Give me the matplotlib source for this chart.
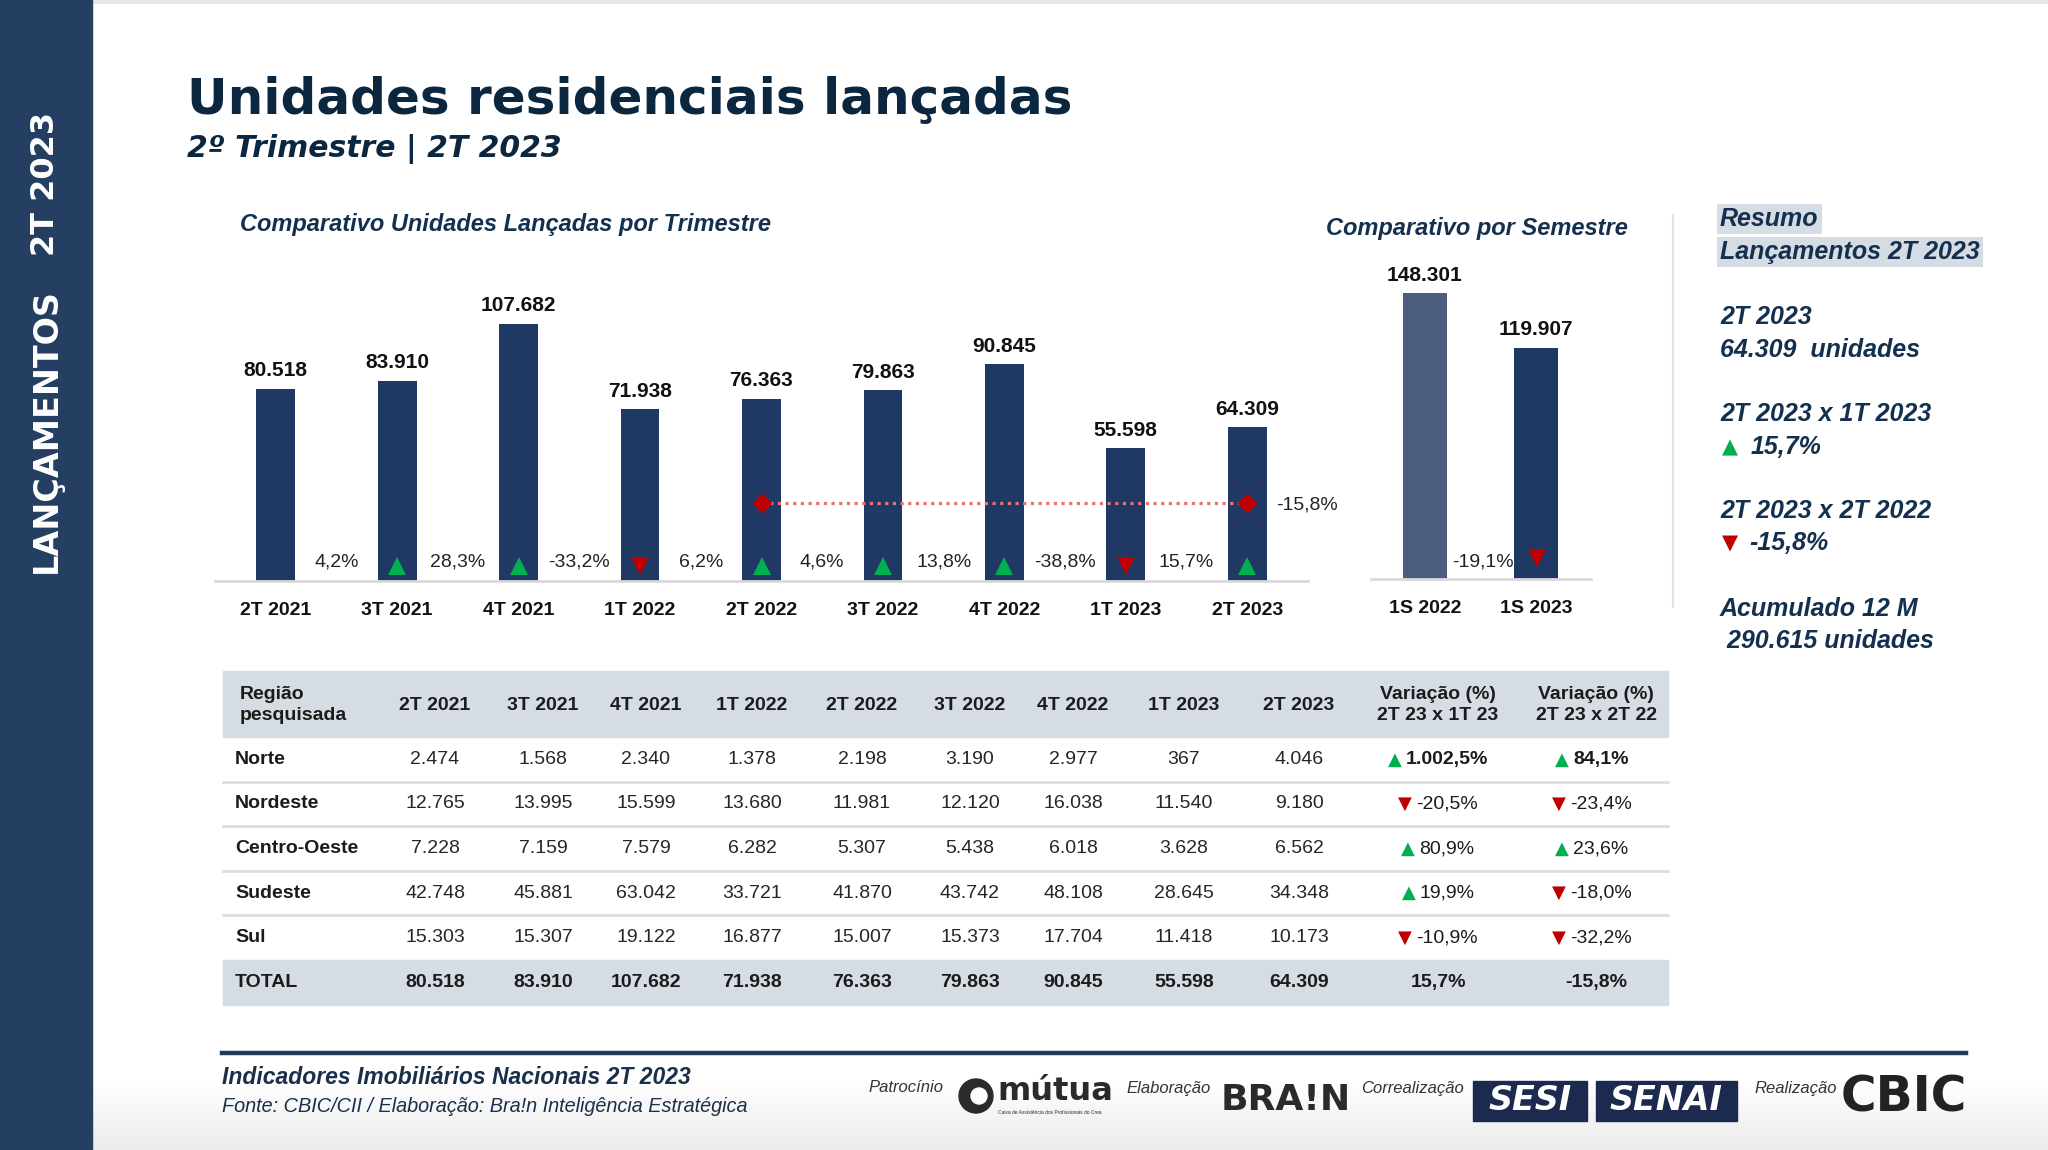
import matplotlib
matplotlib.use('Agg')
import matplotlib.pyplot as plt
import matplotlib.transforms as mtrans
from matplotlib import font_manager as fm
from matplotlib.colors import LinearSegmentedColormap
from matplotlib.patches import Rectangle, Circle
import numpy as np

# ─── dados ─────────
trimestres = ['2T 2021', '3T 2021', '4T 2021', '1T 2022', '2T 2022',
              '3T 2022', '4T 2022', '1T 2023', '2T 2023']
unidades = [80518, 83910, 107682, 71938, 76363, 79863, 90845, 55598, 64309]
var_trim = ['4,2%', '28,3%', '-33,2%', '6,2%', '4,6%', '13,8%', '-38,8%', '15,7%']
var_anual = '-15,8%'

semestres = ['1S 2022', '1S 2023']
unid_sem = [148301, 119907]
var_sem = '-19,1%'

regioes = ['Norte', 'Nordeste', 'Centro-Oeste', 'Sudeste', 'Sul']
norte = [2474, 1568, 2340, 1378, 2198, 3190, 2977, 367, 4046]
nordeste = [12765, 13995, 15599, 13680, 11981, 12120, 16038, 11540, 9180]
centro_oeste = [7228, 7159, 7579, 6282, 5307, 5438, 6018, 3628, 6562]
sudeste = [42748, 45881, 63042, 33721, 41870, 43742, 48108, 28645, 34348]
sul = [15303, 15307, 19122, 16877, 15007, 15373, 17704, 11418, 10173]
var_tri_reg = ['1.002,5%', '-20,5%', '80,9%', '19,9%', '-10,9%']
var_ano_reg = ['84,1%', '-23,4%', '23,6%', '-18,0%', '-32,2%']
var_total = ['15,7%', '-15,8%']

resumo_trim = '64.309  unidades'
resumo_12m = ' 290.615 unidades'

# ─── cores / fontes ─────────
NAVY = '#203864'
SLATE = '#4b5c7f'
TXT = '#14304f'
GREEN = '#00b050'
RED = '#c00000'
LINE = '#d9d9d9'
HEAD_BG = '#d6dce4'

_names = {f.name for f in fm.fontManager.ttflist}
NARROW = 'Liberation Sans Narrow' if 'Liberation Sans Narrow' in _names else 'Liberation Sans'
plt.rcParams['font.family'] = [NARROW, 'DejaVu Sans']

FS_VAL = 15      # rótulos de valor
FS_LAB = 14      # categorias / percentuais / tabela


def br(v):
    return f'{v:,}'.replace(',', '.')


def is_up(s):
    return not s.strip().startswith('-')


W, H = 2048, 1150
fig = plt.figure(figsize=(W / 100, H / 100), dpi=100)

# overlay em coordenadas de pixel (y para baixo)
ov = fig.add_axes([0, 0, 1, 1], zorder=0)
ov.axis('off')

# fundo: leve degradê cinza no rodapé
grad = LinearSegmentedColormap.from_list('g', ['#ffffff', '#ebebeb'])
ov.imshow(np.linspace(0, 1, 60)[:, None], extent=(0, W, H, H - 70),
          cmap=grad, aspect='auto', zorder=0)
ov.add_patch(Rectangle((0, 0), W, 3, color='#e6e6e6', zorder=0))
ov.set_xlim(0, W)
ov.set_ylim(H, 0)

# ─── barra lateral ─────────
ov.add_patch(Rectangle((0, 0), 92, H, color='#243f61', zorder=1))
ov.text(46, 184, '2T 2023', rotation=90, ha='center', va='center', color='white',
        fontsize=23, fontweight='bold', family='DejaVu Sans')
ov.text(46, 431, 'LANÇAMENTOS', rotation=90, ha='center', va='center', color='white',
        fontsize=24, fontweight='bold', family='DejaVu Sans')

# ─── títulos ─────────
ov.text(187, 114, 'Unidades residenciais lançadas', ha='left', va='baseline',
        fontsize=36, fontweight='bold', color='#0b2740', family='DejaVu Sans')
ov.text(187, 157, '2º Trimestre | 2T 2023', ha='left', va='baseline',
        fontsize=21.5, fontweight='bold', style='italic', color='#0b2740',
        family='DejaVu Sans')
ov.text(240, 225, 'Comparativo Unidades Lançadas por Trimestre', ha='left', va='center',
        fontsize=17, fontweight='bold', style='italic', color=TXT)
ov.text(1326, 229, 'Comparativo por Semestre', ha='left', va='center',
        fontsize=17, fontweight='bold', style='italic', color=TXT)

# ─── gráfico trimestral ─────────
PX_Q = 0.002389          # pixels por unidade
axq = fig.add_axes([215 / W, 1 - 581 / H, 1093 / W, 300 / H], zorder=2)
axq.patch.set_visible(False)
xq = np.arange(len(trimestres))
axq.set_xlim(-0.5, len(trimestres) - 0.5)
axq.set_ylim(0, 300 / PX_Q)
axq.bar(xq, unidades, width=0.32, color=NAVY, zorder=2)
for xi, v in zip(xq, unidades):
    axq.annotate(br(v), (xi, v), xytext=(0, 6), textcoords='offset points',
                 ha='center', va='bottom', fontsize=FS_VAL, fontweight='bold', color='#111111')

tri_off = mtrans.offset_copy(axq.transData, fig=fig, x=0, y=11, units='points')
for k, s in enumerate(var_trim):
    axq.annotate(s, (k + 0.5, 0), xytext=(0, 14), textcoords='offset points',
                 ha='center', va='center', fontsize=FS_LAB, color='#222222')
    axq.plot(k + 1, 0, marker='^' if is_up(s) else 'v', ms=13, mew=0,
             color=GREEN if is_up(s) else RED, transform=tri_off, clip_on=False, zorder=3)

# linha 2T 2022 x 2T 2023
NIVEL = 32800
i0, i1 = trimestres.index('2T 2022'), trimestres.index('2T 2023')
axq.plot([i0, i1], [NIVEL, NIVEL], ls=(0, (1, 1.4)), color='#e57373', lw=2.3, zorder=3)
axq.plot([i0, i1], [NIVEL, NIVEL], ls='none', marker='D', ms=9, color=RED, zorder=4)
axq.annotate(var_anual, (i1, NIVEL), xytext=(21, -2), textcoords='offset points',
             ha='left', va='center', fontsize=FS_LAB, color='#222222')

axq.set_xticks(xq, trimestres, fontsize=FS_LAB, fontweight='bold', color='#111111')
axq.tick_params(axis='x', length=0, pad=15)
axq.set_yticks([])
for sp in ['left', 'right', 'top']:
    axq.spines[sp].set_visible(False)
axq.spines['bottom'].set_color(LINE)
axq.spines['bottom'].set_linewidth(2)

# ─── gráfico semestral ─────────
PX_S = 0.001929
axs = fig.add_axes([1371 / W, 1 - 579 / H, 220 / W, 330 / H], zorder=2)
axs.patch.set_visible(False)
xs = np.arange(len(semestres))
axs.set_xlim(-0.486, 1.495)
axs.set_ylim(0, 330 / PX_S)
axs.bar(xs, unid_sem, width=0.4, color=[SLATE, NAVY], zorder=2)
for xi, v in zip(xs, unid_sem):
    axs.annotate(br(v), (xi, v), xytext=(0, 6), textcoords='offset points',
                 ha='center', va='bottom', fontsize=FS_VAL, fontweight='bold', color='#111111')
axs.annotate(var_sem, (0.52, 0), xytext=(0, 12), textcoords='offset points',
             ha='center', va='center', fontsize=FS_LAB, color='#222222', zorder=4)
tri_s = mtrans.offset_copy(axs.transData, fig=fig, x=1, y=15, units='points')
axs.plot(1, 0, marker='^' if is_up(var_sem) else 'v', ms=13, mew=0,
         color=GREEN if is_up(var_sem) else RED, transform=tri_s, clip_on=False, zorder=3)
axs.set_xticks(xs, semestres, fontsize=FS_LAB, fontweight='bold', color='#111111')
axs.tick_params(axis='x', length=0, pad=15)
axs.set_yticks([])
for sp in ['left', 'right', 'top']:
    axs.spines[sp].set_visible(False)
axs.spines['bottom'].set_color(LINE)
axs.spines['bottom'].set_linewidth(2)

# separador vertical
ov.plot([1673, 1673], [215, 607], color='#e3e3e3', lw=1.5, zorder=1)

# ─── resumo ─────────
RX = 1720
box = dict(boxstyle='square,pad=0.12', fc=HEAD_BG, ec='none')
rkw = dict(ha='left', va='center', fontsize=18, fontweight='bold', style='italic', color=TXT)
ov.text(RX, 219, 'Resumo', bbox=box, **rkw)
ov.text(RX, 252, 'Lançamentos 2T 2023', bbox=box, **rkw)
ov.text(RX, 317, '2T 2023', **rkw)
ov.text(RX, 350, resumo_trim, **rkw)
ov.text(RX, 414, '2T 2023 x 1T 2023', **rkw)
ov.text(RX + 10, 447, '▲' if is_up(var_total[0]) else '▼', ha='center', va='center',
        fontsize=15, color=GREEN if is_up(var_total[0]) else RED, family='DejaVu Sans')
ov.text(RX + 31, 447, var_total[0], **rkw)
ov.text(RX, 511, '2T 2023 x 2T 2022', **rkw)
ov.text(RX + 10, 543, '▲' if is_up(var_total[1]) else '▼', ha='center', va='center',
        fontsize=15, color=GREEN if is_up(var_total[1]) else RED, family='DejaVu Sans')
ov.text(RX + 29, 543, var_total[1], **rkw)
ov.text(RX, 609, 'Acumulado 12 M', **rkw)
ov.text(RX, 641, resumo_12m, **rkw)

# ─── tabela ─────────
col_x = [435, 543, 646, 752, 862, 970, 1073, 1184, 1299]
var_x = [1438, 1596]
TAB_L, TAB_R = 223, 1668
HEAD_T, HEAD_B = 671, 737
ROW_H = 44.6
HEAD_Y = (HEAD_T + HEAD_B) / 2 + 1

ov.add_patch(Rectangle((TAB_L, HEAD_T), TAB_R - TAB_L, HEAD_B - HEAD_T,
                       color=HEAD_BG, zorder=1))
hkw = dict(va='center', fontsize=FS_LAB, fontweight='bold', color='#1b1b1b', linespacing=1.3)
ov.text(240, HEAD_Y, 'Região\npesquisada', ha='left', **hkw)
for cx, lab in zip(col_x, trimestres):
    ov.text(cx, HEAD_Y, lab, ha='center', **hkw)
ov.text(var_x[0], HEAD_Y, 'Variação (%)\n2T 23 x 1T 23', ha='center', **hkw)
ov.text(var_x[1], HEAD_Y, 'Variação (%)\n2T 23 x 2T 22', ha='center', **hkw)


def var_cell(x, y, s, bold):
    t = ov.text(x, y, s, ha='center', va='center', fontsize=FS_LAB, color='#1b1b1b',
                fontweight='bold' if bold else 'normal', zorder=3)
    ov.annotate('▲' if is_up(s) else '▼', xy=(0, 0.5), xycoords=t,
                xytext=(-3, 0), textcoords='offset points', ha='right', va='center',
                fontsize=13, color=GREEN if is_up(s) else RED, family='DejaVu Sans')


tabela = [norte, nordeste, centro_oeste, sudeste, sul]
for r, (nome, vals) in enumerate(zip(regioes, tabela)):
    yc = HEAD_B + ROW_H * (r + 0.5)
    if r > 0:
        ov.plot([TAB_L, TAB_R], [HEAD_B + ROW_H * r] * 2, color='#dedede', lw=2, zorder=1)
    ov.text(235, yc, nome, ha='left', va='center', fontsize=FS_LAB, fontweight='bold',
            color='#1b1b1b')
    for cx, v in zip(col_x, vals):
        ov.text(cx, yc, br(v), ha='center', va='center', fontsize=FS_LAB, color='#262626')
    var_cell(var_x[0] + 9, yc, var_tri_reg[r], r == 0)
    var_cell(var_x[1] + 5, yc, var_ano_reg[r], r == 0)

# linha TOTAL
ty0 = HEAD_B + ROW_H * len(regioes)
ov.add_patch(Rectangle((TAB_L, ty0), TAB_R - TAB_L, ROW_H, color=HEAD_BG, zorder=1))
yc = ty0 + ROW_H / 2
ov.text(235, yc, 'TOTAL', ha='left', va='center', fontsize=FS_LAB, fontweight='bold',
        color='#1b1b1b')
totais = [sum(c) for c in zip(*tabela)]
for cx, v in zip(col_x, totais):
    ov.text(cx, yc, br(v), ha='center', va='center', fontsize=FS_LAB, fontweight='bold',
            color='#1b1b1b')
ov.text(var_x[0], yc, var_total[0], ha='center', va='center', fontsize=FS_LAB,
        fontweight='bold', color='#1b1b1b')
ov.text(var_x[1], yc, var_total[1], ha='center', va='center', fontsize=FS_LAB,
        fontweight='bold', color='#1b1b1b')

# ─── rodapé ─────────
ov.plot([222, 1966], [1053, 1053], color='#1f3b57', lw=3.2, zorder=1)
ov.text(222, 1077, 'Indicadores Imobiliários Nacionais 2T 2023', ha='left', va='center',
        fontsize=16.5, fontweight='bold', style='italic', color='#1a2f4a')
ov.text(222, 1107, 'Fonte: CBIC/CII / Elaboração: Bra!n Inteligência Estratégica',
        ha='left', va='center', fontsize=14.3, style='italic', color='#1a2f4a')

skw = dict(ha='left', va='center', fontsize=12, style='italic', color='#333333')
ov.text(868, 1088, 'Patrocínio', **skw)
ov.add_patch(Circle((976, 1096), 17, color='#2a2a2a', zorder=2))
ov.add_patch(Circle((979, 1096), 8, color='white', zorder=3))
ov.text(997, 1092, 'mútua', ha='left', va='center', fontsize=23, fontweight='bold',
        color='#2a2a2a', family='DejaVu Sans')
ov.text(998, 1113, 'Caixa de Assistência dos Profissionais do Crea', ha='left', va='center',
        fontsize=3.5, color='#2a2a2a')
ov.text(1126, 1088, 'Elaboração', **skw)
ov.text(1221, 1100, 'BRA!N', ha='left', va='center', fontsize=26, fontweight='bold',
        color='#2a2a2a', family='DejaVu Sans')
ov.text(1361, 1088, 'Correalização', **skw)
ov.add_patch(Rectangle((1473, 1081), 114, 40, color='#1b2a4e', zorder=2))
ov.text(1530, 1101, 'SESI', ha='center', va='center', fontsize=24, fontweight='bold',
        style='italic', color='white', family='DejaVu Sans', zorder=3)
ov.add_patch(Rectangle((1596, 1081), 141, 40, color='#1b2a4e', zorder=2))
ov.text(1666, 1101, 'SENAI', ha='center', va='center', fontsize=24, fontweight='bold',
        style='italic', color='white', family='DejaVu Sans', zorder=3)
ov.text(1754, 1088, 'Realização', **skw)
ov.text(1841, 1098, 'CBIC', ha='left', va='center', fontsize=35, fontweight='bold',
        color='#222222', family='DejaVu Sans')

fig.savefig('out.png', dpi=100)
